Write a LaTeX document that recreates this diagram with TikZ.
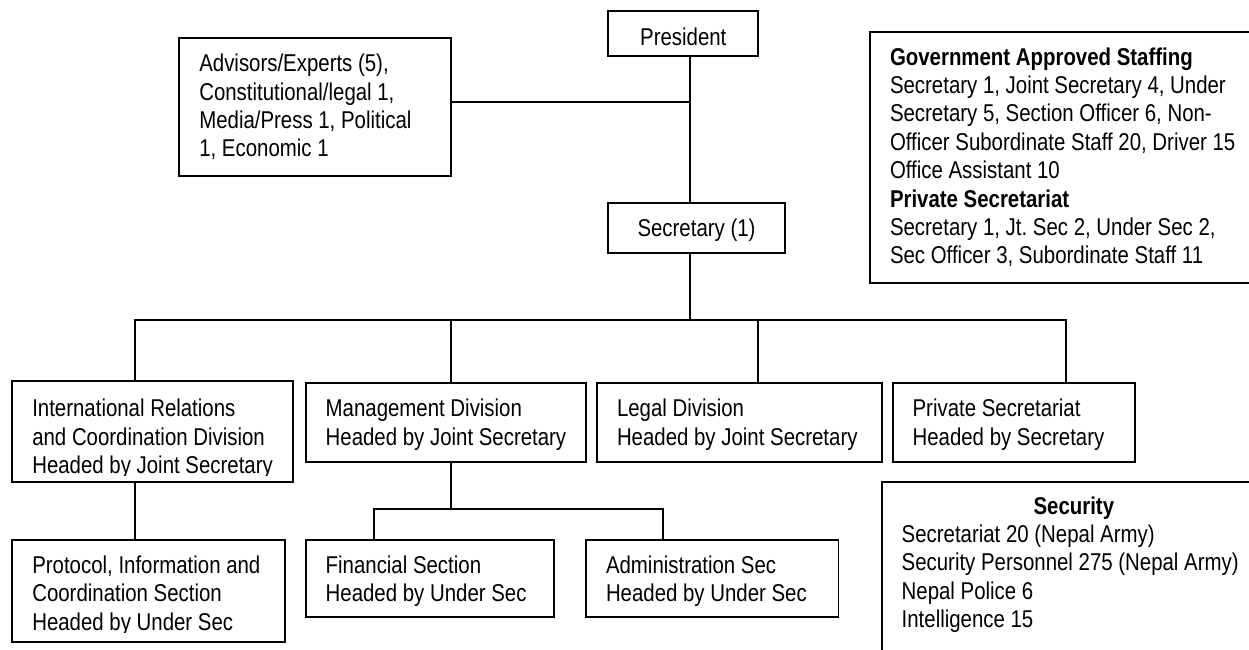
\documentclass[tikz,border=0pt]{standalone}
\usepackage{fontspec}
\usepackage{trimclip}
\setmainfont{Liberation Sans}[FakeStretch=0.84]
\newcommand\oneline[1]{\mbox{#1}}
\newcommand\cutline[1]{\clipbox{0pt 2.8pt 0pt 0pt}{\mbox{#1}}}
\begin{document}
\begin{tikzpicture}[x=1pt,y=-1pt,
  box/.style={draw, line width=1.8pt, outer sep=0pt, inner ysep=0pt, inner xsep=20pt,
    anchor=north west, align=left,
    font=\fontsize{24.3}{28.4}\selectfont,
    execute at begin node={\spaceskip=5.67pt\relax}},
  link/.style={line width=1.8pt}]
\useasboundingbox (0,0) rectangle (1249,649);
% top
\node[box, align=center, inner xsep=10pt, text width=130pt, text height=34.7pt, text depth=10pt] (pres) at (608.3,11) {President};
\node[box, align=center, inner xsep=10pt, text width=156.4pt, text height=33.4pt, text depth=16pt] (sec) at (608.3,203.3) {Secretary (1)};
\node[box, text width=231.7pt, text height=33.4pt, text depth=104pt] (adv) at (179.3,38.3)
  {\oneline{Advisors/Experts (5),}\\\oneline{Constitutional/legal 1,}\\\oneline{Media/Press 1, Political}\\\oneline{1, Economic 1}};
\node[box, text width=370pt, text height=32.7pt, text depth=217.7pt] (gov) at (870,32.3)
  {\oneline{\bfseries Government Approved Staffing}\\\oneline{Secretary 1, Joint Secretary 4, Under}\\\oneline{Secretary 5, Section Officer 6, Non-}\\\oneline{Officer Subordinate Staff 20, Driver 15}\\\oneline{Office Assistant 10}\\\oneline{\bfseries Private Secretariat}\\\oneline{Secretary 1, Jt.\ Sec 2, Under Sec 2,}\\\oneline{Sec Officer 3, Subordinate Staff 11}};
% divisions
\node[box, text width=241pt, text height=36pt, text depth=65pt] (ir) at (12.3,380.7)
  {\oneline{International Relations}\\\oneline{and Coordination Division}\\\cutline{Headed by Joint Secretary}};
\node[box, text width=240.6pt, text height=33.4pt, text depth=45.6pt] (mgmt) at (305.7,383.3)
  {\oneline{Management Division}\\\oneline{Headed by Joint Secretary}};
\node[box, text width=245.3pt, text height=33.4pt, text depth=45.6pt] (legal) at (597,383.3)
  {\oneline{Legal Division}\\\oneline{Headed by Joint Secretary}};
\node[box, text width=202.2pt, text height=33.4pt, text depth=45.6pt] (ps) at (892.6,383.3)
  {\oneline{Private Secretariat}\\\oneline{Headed by Secretary}};
% sections
\node[box, text width=232.7pt, text height=33.3pt, text depth=68.4pt] (prot) at (12.3,540)
  {\oneline{Protocol, Information and}\\\oneline{Coordination Section}\\\cutline{Headed by Under Sec}};
\node[box, text width=208.6pt, text height=33.3pt, text depth=43.4pt] (fin) at (305.7,540)
  {\oneline{Financial Section}\\\oneline{Headed by Under Sec}};
\node[box, text width=212.4pt, text height=33.3pt, text depth=43.4pt] (adm) at (586,540)
  {\oneline{Administration Sec}\\\oneline{Headed by Under Sec}};
\node[box, text width=344.3pt, text height=32.3pt, text depth=156pt] (secu) at (881.7,481.7)
  {\makebox[\linewidth][c]{\bfseries Security}\\\oneline{Secretariat 20 (Nepal Army)}\\\oneline{Security Personnel 275 (Nepal Army)}\\\oneline{Nepal Police 6}\\\oneline{Intelligence 15}};
% connectors
\coordinate (spine) at (690,0);
\coordinate (bus) at (0,320);
\coordinate (sub) at (0,509.3);
\coordinate (irx) at (135,0);
\coordinate (mgx) at (450.7,0);
\coordinate (lgx) at (758.3,0);
\coordinate (psx) at (1066,0);
\coordinate (fx) at (374.3,0);
\coordinate (ax) at (662.7,0);
\draw[link] (pres.south -| spine) -- (sec.north -| spine);
\draw[link] ([yshift=4.7pt]adv.east) -- ([yshift=4.7pt]adv.east -| spine);
\draw[link] (sec.south -| spine) -- (spine |- bus);
\draw[link] (ir.north -| irx) -- (irx |- bus) -- (psx |- bus) -- (ps.north -| psx);
\draw[link] (mgx |- bus) -- (mgmt.north -| mgx);
\draw[link] (lgx |- bus) -- (legal.north -| lgx);
\draw[link] (ir.south -| irx) -- (prot.north -| irx);
\draw[link] (mgmt.south -| mgx) -- (mgx |- sub);
\draw[link] (fin.north -| fx) -- (fx |- sub) -- (ax |- sub) -- (adm.north -| ax);
\end{tikzpicture}
\end{document}
